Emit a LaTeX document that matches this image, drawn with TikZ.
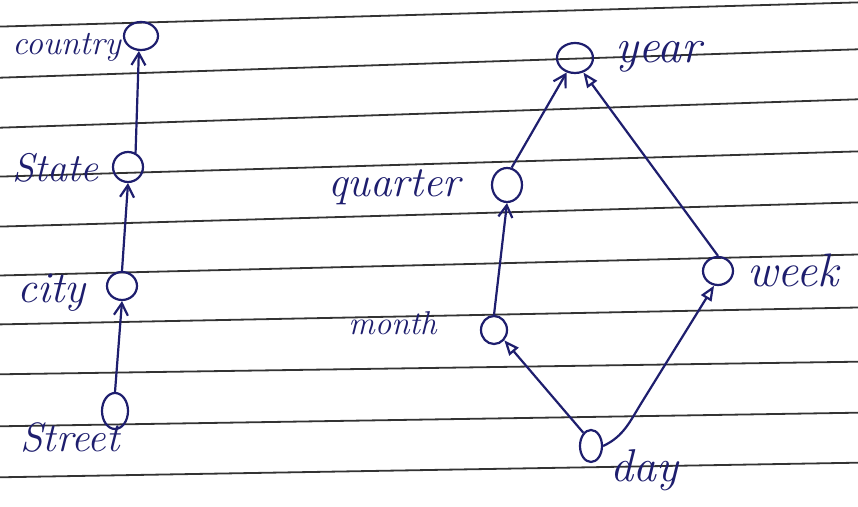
\documentclass[tikz,border=0pt]{standalone}
\usetikzlibrary{arrows.meta,shapes.geometric}
\definecolor{pen}{HTML}{1E1E6E}
\definecolor{ruling}{HTML}{333333}
\newcommand{\fsz}[1]{\fontsize{#1}{#1}\selectfont\itshape}
\begin{document}
\begin{tikzpicture}[x=0.5pt,y=-0.5pt,
  vnode/.style={draw=pen, ellipse, line width=1.1pt, inner sep=0pt},
  lab/.style={text=pen, anchor=base west, inner sep=0pt},
  conn/.style={draw=pen, line width=1.1pt},
  varrow/.style={conn, -{Straight Barb[length=6pt,width=7pt,line width=1.1pt]}},
  tarrow/.style={conn, -{Triangle[open,length=7.5pt,width=6pt,line width=1.1pt]}},
  ruleline/.style={draw=ruling, line width=0.9pt}]
\fill[white] (0,0) rectangle (858,507);
\useasboundingbox (0,0) rectangle (858,507);
% ruled paper lines
\foreach \a/\b in {26.6/2.4, 77.7/49.3, 127.7/99.3, 176.6/151.4, 226.6/202.4,
                   275.5/254.5, 324.4/307.5, 374.3/361.7, 426.3/412.7, 477.3/462.7}
  \draw[ruleline] (0,\a) -- (858,\b);

% left hierarchy
\node[vnode, minimum width=17pt, minimum height=14pt] (country) at (141,36) {};
\node[vnode, minimum width=15pt, minimum height=15pt] (state) at (128,167) {};
\node[vnode, minimum width=15pt, minimum height=14pt] (city) at (122,286) {};
\node[vnode, minimum width=13pt, minimum height=18pt] (street) at (115,411) {};

\node[lab, font=\fsz{17}] (lcountry) at (12,55) {country};
\node[lab, font=\fsz{20}] (lstate) at (12,182) {State};
\node[lab, font=\fsz{22}] (lcity) at (17,303) {city};
\node[lab, font=\fsz{20.5}] (lstreet) at (20,452) {Street};

\draw[varrow] (street.north) -- (city.south);
\draw[varrow] (city.north) -- (state.south);
\draw[varrow] (state.62) -- (country.262);

% right lattice
\node[vnode, minimum width=18pt, minimum height=15pt] (year) at (575,58) {};
\node[vnode, minimum width=15pt, minimum height=17pt] (quarter) at (507,185) {};
\node[vnode, minimum width=13pt, minimum height=14pt] (month) at (494,330) {};
\node[vnode, minimum width=15pt, minimum height=14pt] (week) at (718,271) {};
\node[vnode, minimum width=11pt, minimum height=16pt] (day) at (591,446) {};
\coordinate (bend) at (642,402);

\node[lab, font=\fsz{24}] (lyear) at (615,63) {year};
\node[lab, font=\fsz{21.5}] (lquarter) at (328,197) {quarter};
\node[lab, font=\fsz{16.5}] (lmonth) at (348,335) {month};
\node[lab, font=\fsz{23.5}] (lweek) at (747,287) {week};
\node[lab, font=\fsz{23}] (lday) at (610,482) {day};

\draw[varrow] (quarter.75) -- (year.240);
\draw[varrow] (month.north) -- (quarter.south);
\draw[tarrow] (day.120) -- (month.-45);
\draw[tarrow] (day.east) to[out=25, in=238] (bend) -- (week.255);
\draw[tarrow] (week.north) -- (year.-60);
\end{tikzpicture}
\end{document}
